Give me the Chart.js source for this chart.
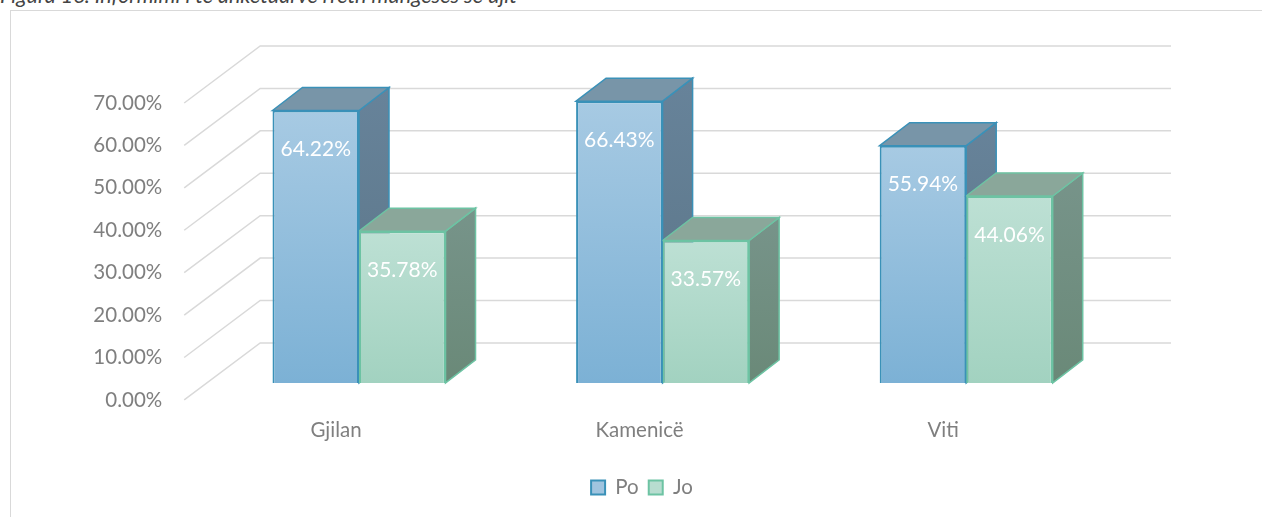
<!DOCTYPE html>
<html>
<head>
<meta charset="utf-8">
<script src="https://cdn.jsdelivr.net/npm/chart.js@4"></script>
<style>
  html, body { margin: 0; padding: 0; background: #fff; overflow: hidden; }
  #wrap { position: relative; width: 1262px; height: 517px; }
  #frame { position: absolute; left: 10px; top: 10px; width: 1300px; height: 600px;
           border-left: 1px solid #d9d9d9; border-top: 1px solid #d9d9d9; }
  #title { position: absolute; left: 0; top: -15px; font: italic 21.5px Lato, sans-serif;
           line-height: 21.5px; color: #444; white-space: nowrap; }
  canvas { position: absolute; left: 0; top: 0; }
</style>
</head>
<body>
<div id="wrap">
  <div id="frame"></div>
  <div id="title">Figura 16. Informimi i të anketuarve rreth mungesës së ujit</div>
  <canvas id="chart" width="1262" height="517"></canvas>
</div>
<script>
const categories = ['Gjilan', 'Kamenicë', 'Viti'];
const seriesNames = ['Po', 'Jo'];
const poValues = [64.22, 66.43, 55.94];
const joValues = [35.78, 33.57, 44.06];

// colours per series: front gradient (top, bottom), border, top face, side face gradient
const frontTop = ['#a7cae3', '#bde0d4'];
const frontBottom = ['#7cb1d5', '#a2d2c0'];
const borderColors = ['#3a91b8', '#6dc3a3'];
const topFace = ['#7895a8', '#8aa79a'];
const sideTop = ['#67839a', '#77948a'];
const sideBottom = ['#5a7486', '#6a8978'];
const legendFill = ['#a0c4df', '#b8ddd0'];

// fake 3d offsets (px)
const DEPTH_X = 30, DEPTH_Y = -23;   // bar depth
const BACK_X = 53, BACK_Y = -40;     // back wall, relative to bar plane
const FRONT_X = -23, FRONT_Y = 17;   // front floor edge, relative to bar plane

const font = { family: 'Lato', size: 20.5 };
const textGray = '#7f7f7f';

function frontGradient(c) {
  const chart = c.chart;
  const i = c.datasetIndex;
  if (!chart.chartArea || c.parsed === undefined) return frontBottom[i];
  const y = chart.scales.y;
  const g = chart.ctx.createLinearGradient(0, y.getPixelForValue(c.parsed.y), 0, y.getPixelForValue(0));
  g.addColorStop(0, frontTop[i]);
  g.addColorStop(1, frontBottom[i]);
  return g;
}

const threeD = {
  id: 'threeD',
  beforeDatasetsDraw(chart) {
    const { ctx, chartArea: a, scales: { y } } = chart;
    ctx.save();
    // walls
    ctx.strokeStyle = '#d9d9d9';
    ctx.lineWidth = 1.5;
    y.ticks.forEach(t => {
      const py = y.getPixelForValue(t.value);
      ctx.beginPath();
      ctx.moveTo(a.left + FRONT_X, py + FRONT_Y);
      ctx.lineTo(a.left + BACK_X, py + BACK_Y);
      ctx.lineTo(a.right + BACK_X, py + BACK_Y);
      ctx.stroke();
    });
    // top and side faces of the bars
    const metas = chart.getSortedVisibleDatasetMetas();
    categories.forEach((cat, i) => {
      metas.forEach(meta => {
        const s = meta.index;
        const { x, y: top, base, width } = meta.data[i].getProps(['x', 'y', 'base', 'width'], true);
        const l = x - width / 2, r = x + width / 2;

        const g = ctx.createLinearGradient(0, top + DEPTH_Y, 0, base);
        g.addColorStop(0, sideTop[s]);
        g.addColorStop(1, sideBottom[s]);
        ctx.beginPath();
        ctx.moveTo(r, top);
        ctx.lineTo(r + DEPTH_X, top + DEPTH_Y);
        ctx.lineTo(r + DEPTH_X, base + DEPTH_Y);
        ctx.lineTo(r, base);
        ctx.closePath();
        ctx.fillStyle = g;
        ctx.fill();
        ctx.strokeStyle = borderColors[s];
        ctx.lineWidth = 1.5;
        ctx.stroke();

        ctx.beginPath();
        ctx.moveTo(l, top);
        ctx.lineTo(l + DEPTH_X, top + DEPTH_Y);
        ctx.lineTo(r + DEPTH_X, top + DEPTH_Y);
        ctx.lineTo(r, top);
        ctx.closePath();
        ctx.fillStyle = topFace[s];
        ctx.fill();
        ctx.stroke();
      });
    });
    ctx.restore();
  },
  afterDatasetsDraw(chart) {
    const { ctx } = chart;
    ctx.save();
    ctx.fillStyle = '#ffffff';
    ctx.font = '21px Lato';
    ctx.textAlign = 'center';
    ctx.textBaseline = 'middle';
    chart.getSortedVisibleDatasetMetas().forEach(meta => {
      meta.data.forEach((bar, i) => {
        const v = chart.data.datasets[meta.index].data[i];
        ctx.fillText(v.toFixed(2) + '%', bar.x, bar.y + 39);
      });
    });
    ctx.restore();
  }
};

new Chart(document.getElementById('chart'), {
  type: 'bar',
  data: {
    labels: categories,
    datasets: [
      { label: seriesNames[0], data: poValues },
      { label: seriesNames[1], data: joValues }
    ].map((d, i) => Object.assign(d, {
      backgroundColor: frontGradient,
      borderColor: borderColors[i],
      borderWidth: 2,
      barPercentage: 1,
      categoryPercentage: 0.57
    }))
  },
  options: {
    responsive: false,
    animation: false,
    // left 40 + right axis 126 keeps the legend centred where the original has it
    layout: { padding: { left: 40, right: 18, top: 86, bottom: 9.3 } },
    scales: {
      x: {
        grid: { display: false, drawTicks: false },
        border: { display: false },
        ticks: { color: textGray, font: font, padding: 35, labelOffset: -23, maxRotation: 0 },
        afterFit: s => { s.height = 84.3; }
      },
      y: {
        min: 0,
        max: 70,
        grid: { display: false, drawTicks: false },
        border: { display: false },
        ticks: {
          stepSize: 10,
          color: textGray,
          font: font,
          padding: 45,
          labelOffset: 17,
          callback: v => v.toFixed(2) + '%'
        },
        afterFit: s => { s.width = 167.2; }
      },
      yRight: {
        position: 'right',
        min: 0,
        max: 70,
        grid: { display: false, drawTicks: false },
        border: { display: false },
        ticks: { display: false },
        afterFit: s => { s.width = 126; }
      }
    },
    plugins: {
      tooltip: { enabled: false },
      legend: {
        position: 'bottom',
        labels: {
          boxWidth: 14,
          boxHeight: 14,
          padding: 10,
          color: textGray,
          font: font,
          generateLabels: chart => chart.data.datasets.map((d, i) => ({
            text: d.label,
            fillStyle: legendFill[i],
            strokeStyle: borderColors[i],
            lineWidth: 2,
            fontColor: textGray,
            datasetIndex: i,
            hidden: false
          }))
        }
      }
    }
  },
  plugins: [threeD]
});
</script>
</body>
</html>
